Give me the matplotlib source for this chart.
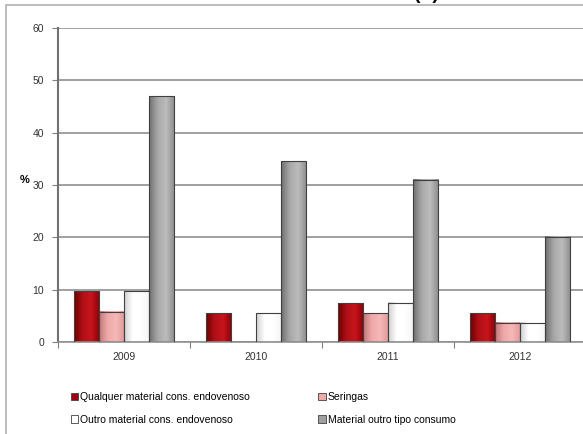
import numpy as np
import matplotlib
matplotlib.use("Agg")
import matplotlib.pyplot as plt
from matplotlib.patches import Rectangle
from matplotlib.colors import LinearSegmentedColormap

plt.rcParams['font.family'] = ['Liberation Sans Narrow', 'Liberation Sans', 'DejaVu Sans']

# dados (%)
anos = ['2009', '2010', '2011', '2012']
series = ['Qualquer material cons. endovenoso', 'Seringas',
          'Outro material cons. endovenoso', 'Material outro tipo consumo']
qualquer = [9.7, 5.5, 7.4, 5.5]
seringas = [5.8, 0, 5.5, 3.7]
outro = [9.7, 5.5, 7.5, 3.7]
material = [47.0, 34.5, 31.0, 20.1]
valores = [qualquer, seringas, outro, material]

# gradientes (escuro -> claro -> escuro) para imitar o estilo do Excel
gradientes = [
    ['#6e0000', '#b01018', '#c8141c', '#8a0008'],
    ['#c07878', '#f0a8a8', '#f6b8b8', '#e09898'],
    ['#d0d0d0', '#ffffff', '#ffffff', '#f4f4f4'],
    ['#707070', '#a8a8a8', '#bcbcbc', '#8c8c8c'],
]
cor_legenda = ['#a00010', '#f0a8a8', '#ffffff', '#a0a0a0']

fig = plt.figure(figsize=(5.83, 4.34), dpi=100)
ax = fig.add_axes([58 / 583, 1 - 342 / 434, 528 / 583, 314 / 434])

# moldura do gráfico
fig.patches.append(Rectangle((6 / 583, -0.1), 1.2, 1 - 5 / 434 + 0.1,
                             transform=fig.transFigure, fill=False,
                             edgecolor='#b0b0b0', lw=1.2, zorder=0))

x = np.arange(len(anos))
w = 0.19
grad = np.linspace(0, 1, 64).reshape(1, -1)
handles = []
for i, (vals, cores) in enumerate(zip(valores, gradientes)):
    cmap = LinearSegmentedColormap.from_list('g%d' % i, cores)
    barras = ax.bar(x + (i - 1.5) * w, vals, w, color='none',
                    edgecolor='#404040', lw=0.8, zorder=3)
    for b in barras:
        if b.get_height() <= 0:
            continue
        x0, x1 = b.get_x(), b.get_x() + b.get_width()
        ax.imshow(grad, cmap=cmap, aspect='auto', extent=[x0, x1, 0, b.get_height()],
                  zorder=2, interpolation='bicubic')
    handles.append(Rectangle((0, 0), 1, 1, facecolor=cor_legenda[i],
                             edgecolor='#404040', lw=0.6, label=series[i]))

ax.set_xlim(-0.5, 3.5)
ax.set_ylim(0, 60)
ax.set_yticks(range(0, 61, 10))
ax.yaxis.grid(True, color='#909090', lw=1.2, zorder=0)
ax.set_axisbelow(True)
ax.set_xticks([-0.5, 0.5, 1.5, 2.5])
ax.set_xticklabels([])
ax.set_xticks(x, minor=True)
ax.set_xticklabels(anos, minor=True, fontsize=7.5, color='#333333')
ax.tick_params(axis='x', which='minor', length=0, pad=7)
ax.tick_params(axis='x', which='major', length=4, color='#808080')
ax.tick_params(axis='y', labelsize=7.5, labelcolor='#333333', length=4,
               color='#808080', pad=6)
for s in ['top', 'right']:
    ax.spines[s].set_visible(False)
ax.spines['left'].set_color('#707070')
ax.spines['left'].set_linewidth(1.5)
ax.spines['bottom'].set_color('#909090')
ax.spines['bottom'].set_linewidth(1.2)
ax.set_ylabel('%', rotation=0, fontsize=8, fontweight='bold', labelpad=6)

fig.text(0.71, 1.012, '(b)', fontsize=14, fontweight='bold', va='center')

# ordem da legenda: linha 1 = Qualquer, Seringas; linha 2 = Outro, Material
ordem = [0, 2, 1, 3]
fig.legend([handles[k] for k in ordem], [series[k] for k in ordem], ncol=2,
           loc='upper left', bbox_to_anchor=(0.105, 0.118),
           frameon=False, fontsize=7.5, handlelength=0.7, handleheight=0.7,
           handletextpad=0.2, columnspacing=6.6, labelspacing=1.2)

plt.savefig('out.png', dpi=100)
